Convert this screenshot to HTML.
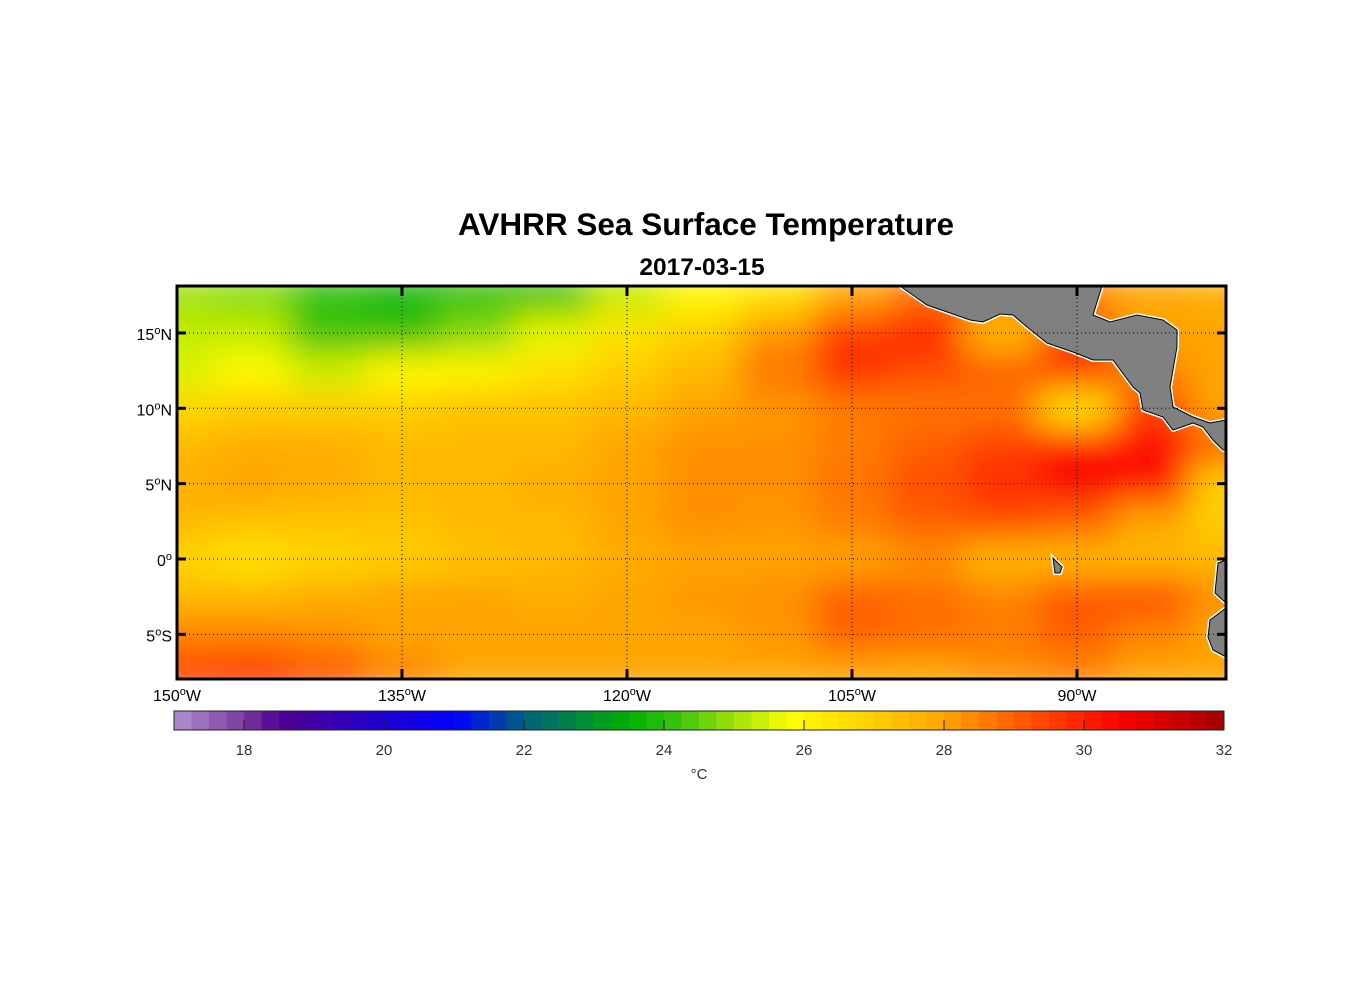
<!DOCTYPE html>
<html><head><meta charset="utf-8"><style>
html,body{margin:0;padding:0;background:#fff;}
svg{display:block;font-family:"Liberation Sans",sans-serif;}
</style></head><body>
<svg id="chart" width="1356" height="1000" viewBox="0 0 1356 1000">
<defs>
<filter id="blur" x="0" y="0" width="1" height="1"><feGaussianBlur stdDeviation="17" edgeMode="duplicate"/></filter>
<clipPath id="mapclip"><rect x="177" y="286" width="1049" height="393"/></clipPath>
</defs>
<text x="706" y="235" font-size="31.5" font-weight="bold" text-anchor="middle">AVHRR Sea Surface Temperature</text>
<text x="702" y="275" font-size="24.5" font-weight="bold" text-anchor="middle">2017-03-15</text>
<g clip-path="url(#mapclip)"><g id="cells" filter="url(#blur)"></g></g>
<g id="land"></g>
<g id="grid"></g>
<rect x="177" y="286" width="1049" height="393" fill="none" stroke="#000" stroke-width="3"/>
<g id="ticks"></g>
<g id="cbar"></g>
</svg>
<script>
const NS="http://www.w3.org/2000/svg";
const lons=[-150,-145,-140,-135,-130,-125,-120,-115,-110,-105,-100,-95,-90,-85,-80];
const lats=[17.5,15,12.5,10,7.5,5,2.5,0,-2.5,-5,-7.5];
const sst=[
[25,24.8,24.1,23.8,24.1,24.1,25.3,26,26.5,28,28.8,28.5,28.5,28,27.8],
[25.3,25.3,24.2,24.1,24.8,25.6,26.5,27,28.2,29.6,29.9,27.5,29.3,28,28],
[25.5,25.9,25.4,25.9,26,26.5,27,27.5,28.7,29.8,29.3,29,29.7,28.5,28],
[26.8,27,27,27,27.3,27.3,27.5,28,28.2,28.6,28.7,28.7,26.5,29.5,28],
[27.5,27.8,27.8,27.5,27.5,27.5,28,28.3,28.3,28.6,29,29.5,30.2,30.3,29],
[27.8,28,27.8,27.5,27.5,27.8,28,28.3,28.3,28.7,29.3,29.8,30.6,30.3,27],
[27.5,27.3,27.3,27.3,27.5,27.5,28,28.3,28.2,28.6,29,29.3,29,28,27],
[26.8,26.5,26.8,27,27.3,27.5,27.8,28,28,28,28.3,27.5,27.5,27.5,27.5],
[27.5,27.5,27.8,28,28,27.8,28,28.2,28.3,29,28.8,28.5,29.2,29.3,28.3],
[28.5,28.5,28.3,28,28,28,28,28,28.2,29,28.8,28.6,29,28.5,28],
[29.5,29.7,29.2,28.5,28,28,28,28,28,28,28,28.3,28.5,28,28]];
const cbTicks=[18,20,22,24,26,28,30,32];
const latTicks=[15,10,5,0,-5];
const latLabels=["15","10","5","0","5"];
const latSuffix=["N","N","N","","S"];
const lonTicks=[-150,-135,-120,-105,-90];
const lonLabels=["150","135","120","105","90"];
const stops=[[17,[176,144,208]],[18,[122,58,160]],[18.5,[80,0,144]],[21,[0,0,255]],[22,[0,96,128]],[23.5,[0,176,0]],[24.2,[60,195,16]],[25.8,[255,255,0]],[28,[255,165,0]],[29,[255,96,0]],[30.5,[255,0,0]],[32,[160,0,0]]];
function cmap(t){
  if(t<=stops[0][0])return "rgb("+stops[0][1]+")";
  for(let i=1;i<stops.length;i++){if(t<=stops[i][0]){const a=stops[i-1],b=stops[i],f=(t-a[0])/(b[0]-a[0]);return "rgb("+a[1].map((v,k)=>Math.round(v+(b[1][k]-v)*f)).join(",")+")";}}
  return "rgb("+stops[stops.length-1][1]+")";
}
const X=lon=>177+(lon+150)*15;
const Y=lat=>559-lat*15.07;
const CX=t=>174+(t-17)*70;
function el(tag,attrs,parent){const e=document.createElementNS(NS,tag);for(const k in attrs)e.setAttribute(k,attrs[k]);parent.appendChild(e);return e;}
const cells=document.getElementById('cells');
lats.forEach((la,i)=>lons.forEach((lo,j)=>{
  const r=el('rect',{x:X(lo-2.5),y:Y(la+1.25),width:76,height:39,fill:cmap(sst[i][j])},cells);
  
  
}));
const land=document.getElementById('land');
const landPolys=[
 ["central-america","900,286 927,305 950,313 970,320 983,322 1000,314 1013,315 1027,327 1047,343 1073,352 1093,360 1113,360 1133,387 1140,393 1143,410 1163,417 1173,430 1193,423 1203,427 1213,440 1223,450 1226,450 1226,420 1210,423 1193,417 1173,407 1170,387 1177,347 1177,330 1163,320 1137,315 1110,322 1093,315 1102,286"],
 ["south-america-north","1226,560 1218,563 1215,593 1226,603"],
 ["south-america-south","1226,608 1210,620 1208,637 1213,650 1226,657"],
 ["galapagos-island","1053,558 1062,567 1060,573 1055,573"]];
landPolys.forEach(p=>{
  el('polygon',{points:p[1],fill:"none",stroke:"#fff","stroke-width":4},land);
  const g=el('polygon',{points:p[1],fill:"#808080",stroke:"#000","stroke-width":1},land);
  
  
});
const grid=document.getElementById('grid');
const ticks=document.getElementById('ticks');
latTicks.forEach((la,i)=>{
  const y=Y(la);
  const l=el('line',{x1:177,x2:1226,y1:y,y2:y,stroke:"#000","stroke-width":1,"stroke-dasharray":"1,3"},grid);
  
  
  el('line',{x1:177,x2:186,y1:y,y2:y,stroke:"#000","stroke-width":3},ticks);
  el('line',{x1:1217,x2:1226,y1:y,y2:y,stroke:"#000","stroke-width":3},ticks);
  const t=el('text',{x:172,y:y+7,"font-size":16,"text-anchor":"end"},ticks);
  
  
  t.innerHTML=latLabels[i]+'<tspan dy="-6" font-size="11">o</tspan><tspan dy="6">'+latSuffix[i]+'</tspan>';
});
lonTicks.forEach((lo,i)=>{
  const x=X(lo);
  if(i>0){
    const l=el('line',{x1:x,x2:x,y1:286,y2:679,stroke:"#000","stroke-width":1,"stroke-dasharray":"1,3"},grid);
    
    
    el('line',{x1:x,x2:x,y1:286,y2:296,stroke:"#000","stroke-width":3},ticks);
    el('line',{x1:x,x2:x,y1:669,y2:679,stroke:"#000","stroke-width":3},ticks);
  }
  const t=el('text',{x:x,y:701,"font-size":16,"text-anchor":"middle"},ticks);
  
  
  t.innerHTML=lonLabels[i]+'<tspan dy="-6" font-size="11">o</tspan><tspan dy="6">W</tspan>';
});
const cb=document.getElementById('cbar');
for(let v=17;v<32;v+=0.25){
  el('rect',{x:CX(v),y:711,width:17.8,height:19,fill:cmap(v+0.125)},cb);
}
const fr=el('rect',{x:174,y:711,width:1050,height:19,fill:"none",stroke:"#222","stroke-width":1},cb);


cbTicks.forEach(t=>{
  el('line',{x1:CX(t),x2:CX(t),y1:720,y2:730,stroke:"#222","stroke-width":1},cb);
  const tx=el('text',{x:CX(t),y:755,"font-size":15,"text-anchor":"middle",fill:"#333"},cb);
  
  
  tx.textContent=t;
});
const u=el('text',{x:699,y:779,"font-size":15,"text-anchor":"middle",fill:"#333"},cb);


u.textContent="°C";
</script>
</body></html>
